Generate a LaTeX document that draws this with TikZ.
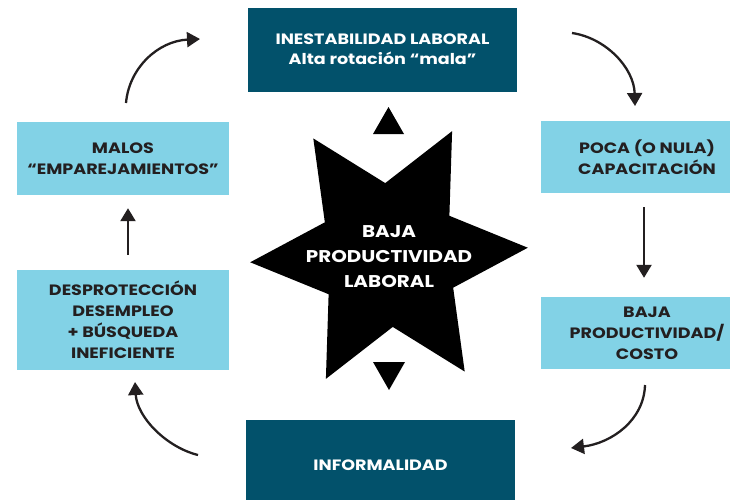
\documentclass[tikz,border=0pt]{standalone}
\usepackage{fontspec}
\setmainfont{Poppins}[BoldFont={* Bold}]
\newfontfamily\boxfont{Poppins}[UprightFont={* Bold}, FakeStretch=1.17]
\usetikzlibrary{arrows.meta,calc}
\definecolor{boxdark}{HTML}{02516B}
\definecolor{boxlight}{HTML}{82D2E6}
\definecolor{txtdark}{HTML}{231F20}
\begin{document}
\begin{tikzpicture}[x=1pt,y=-1pt,
  darkbox/.style={rectangle, fill=boxdark, text=white, font=\boxfont\fontsize{15}{20}\selectfont, align=center, inner sep=0pt},
  lightbox/.style={rectangle, fill=boxlight, text=txtdark, font=\boxfont\fontsize{15}{21}\selectfont, align=center, inner sep=0pt},
  arr/.style={draw=txtdark, line width=2.3pt, -{Triangle[length=13pt,width=15pt]}},
  marker/.style={fill=black}]
\useasboundingbox (0,0) rectangle (730,499);
\clip (0,0) rectangle (730,499);
\fill[white] (0,0) rectangle (730,499);

% boxes
\node[darkbox, minimum width=269pt, minimum height=84pt] (top) at (382.5,49.5) {INESTABILIDAD LABORAL\\Alta rotación “mala”};
\node[lightbox, minimum width=212pt, minimum height=72pt] (rt) at (647,157) {POCA (O NULA)\\CAPACITACIÓN};
\node[lightbox, minimum width=212pt, minimum height=72pt] (rb) at (647,333) {BAJA\\PRODUCTIVIDAD/\\COSTO};
\node[darkbox, minimum width=269pt, minimum height=90pt] (bot) at (380.5,465) {INFORMALIDAD};
\node[lightbox, minimum width=212pt, minimum height=73pt] (lt) at (123,158.5) {MALOS\\“EMPAREJAMIENTOS”};
\node[lightbox, minimum width=212pt, minimum height=100pt] (lb) at (123,320) {DESPROTECCIÓN\\DESEMPLEO\\+ BÚSQUEDA\\INEFICIENTE};

% star
\begin{scope}[shift={(389,255)}]
\fill[black] (-3:139) -- (27:72) -- (57:139) -- (87:72) -- (117:139) -- (147:72) -- (177:139) -- (207:72) -- (237:139) -- (267:72) -- (297:139) -- (327:72) -- cycle;
\end{scope}
\node[font=\boxfont\fontsize{17}{25}\selectfont, text=white, align=center] (star) at (389,257) {BAJA\\PRODUCTIVIDAD\\LABORAL};

% triangles
\fill[marker] (388.5,107) -- (404,134) -- (373,134) -- cycle;
\fill[marker] (373,362) -- (405,362) -- (389,390) -- cycle;

% straight arrows
\draw[arr, shorten <=15pt, shorten >=13pt] ([xshift=5pt]lb.north) -- ([xshift=5pt]lt.south);
\draw[arr, shorten <=14pt, shorten >=19pt] ([xshift=-3pt]rt.south) -- ([xshift=-3pt]rb.north);

% curved arrows
\coordinate (c1s) at (126,103); \coordinate (c1e) at (200,39);
\coordinate (c2s) at (572,33);  \coordinate (c2e) at (635,106);
\coordinate (c3s) at (645,385); \coordinate (c3e) at (571,448);
\coordinate (c4s) at (198,455); \coordinate (c4e) at (135,382);
\draw[arr] (c1s) .. controls (129,68) and (158,41) .. (c1e);
\draw[arr] (c2s) .. controls (606,38) and (634,68) .. (c2e);
\draw[arr] (c3s) .. controls (644,420) and (612,443) .. (c3e);
\draw[arr] (c4s) .. controls (166,447) and (137,417) .. (c4e);
\end{tikzpicture}
\end{document}
